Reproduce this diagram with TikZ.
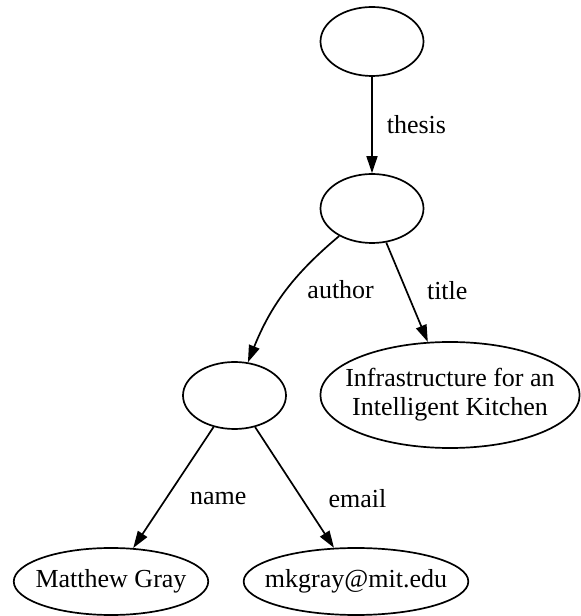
\documentclass[tikz,border=0pt]{standalone}
\usepackage{fontspec}
\setmainfont{Liberation Serif}
\usetikzlibrary{arrows.meta,shapes.geometric}

\begin{document}
\begin{tikzpicture}[x=1pt, y=1pt,
    every node/.style={font=\fontsize{26}{29}\selectfont},
    res/.style={ellipse, draw, line width=1.7pt, inner sep=0pt, align=center},
    edge/.style={line width=1.7pt, -{Triangle[length=17pt, width=11pt]}},
    lbl/.style={anchor=west, inner sep=0pt}]
    \useasboundingbox (0,0) rectangle (581,616);
    % resources
    \node[res, minimum width=103pt, minimum height=69pt] (doc) at (372, 574.5) {};
    \node[res, minimum width=103pt, minimum height=69pt] (thesis) at (372, 407.5) {};
    \node[res, minimum width=103pt, minimum height=67pt] (author) at (234.5, 220.5) {};
    \node[res, inner xsep=-13pt, minimum height=106pt] (title) at (450, 221) {Infrastructure for an\\Intelligent Kitchen};
    \node[res, inner xsep=-6.7pt, minimum height=67pt] (name) at (111, 34.5) {Matthew Gray};
    \node[res, inner xsep=-11.6pt, minimum height=67pt] (email) at (356, 34.5) {mkgray@mit.edu};
    % properties
    \draw[edge] (doc) -- node[lbl, midway, xshift=14pt] {thesis} (thesis);
    \draw[edge] (thesis) to[out=-140, in=68] node[lbl, midway, xshift=22pt, yshift=3pt] {author} (author);
    \draw[edge] (thesis) -- node[lbl, pos=0.48, xshift=20pt] {title} (title);
    \draw[edge] (author) -- node[lbl, pos=0.59, xshift=23pt] {name} (name);
    \draw[edge] (author) -- node[lbl, pos=0.59, xshift=26pt] {email} (email);
\end{tikzpicture}
\end{document}
